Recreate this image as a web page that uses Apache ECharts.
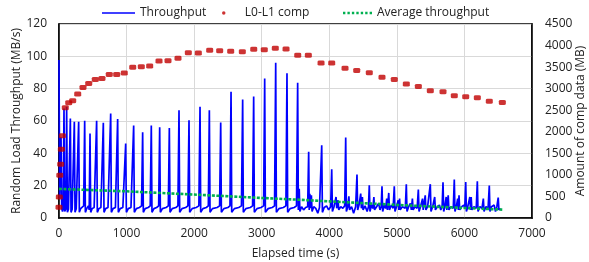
<!DOCTYPE html>
<html>
<head>
<meta charset="utf-8">
<script src="https://cdn.jsdelivr.net/npm/echarts@6/dist/echarts.min.js"></script>
<style>html,body{margin:0;padding:0;background:#fff;}#c{width:589px;height:262px;}</style>
</head>
<body>
<div id="c"></div>
<script>
// Elapsed time (s), Random load throughput (MB/s)
const throughput = [
[0,97.7],[10,12],[22,47],[30,50],[40,6],[52,4],[62,6],[74,67.8],[84,4],[95,5],[104,6],[113,68.8],[124,3.5],[140,5.5],[155,6],
[168,61.6],[178,3.5],[195,5.5],[212,6.5],[227,59.5],[237,3.5],[255,5.8],[278,7],[291,59.5],[301,3.5],[320,5.8],[345,6.5],[365,7.5],
[380,60.1],[390,3.5],[410,5.8],[435,7.5],[447,5],[459,52.3],[469,3.5],[490,5.8],[520,6.5],[542,7.5],[557,60.1],[567,3.5],[590,5.8],
[620,6.5],[641,7.5],[656,58.9],[666,3.5],[690,5.8],[725,6.5],[750,7.5],[765,64.7],[775,3.5],[800,5.8],[835,6.5],[855,7.5],[868,61.2],
[878,3.5],[905,5.8],[945,6.5],[972,7.5],[987,46.1],[997,3.5],[1025,5.8],[1065,6.5],[1090,7.5],[1105,57.2],[1115,3.5],[1145,5.8],
[1190,6.5],[1222,7.5],[1238,53.1],[1248,3.5],[1275,5.8],[1320,6.5],[1350,7.5],[1366,57.2],[1376,3.5],[1405,5.8],[1445,6.5],[1475,7.5],
[1490,56.2],[1500,3.5],[1530,5.8],[1585,6.5],[1618,7.5],[1633,55.6],[1643,3.5],[1675,5.8],[1730,6.5],[1760,7.5],[1776,66.7],[1786,3.5],
[1820,5.8],[1875,6.5],[1908,7.5],[1924,60.5],[1934,3.5],[1970,5.8],[2030,6.5],[2070,7.5],[2087,68.8],[2097,3.5],[2130,5.8],[2180,6.5],
[2210,7.5],[2225,66.7],[2235,3.5],[2270,5.8],[2340,6.5],[2377,7.5],[2393,59.1],[2403,3.5],[2440,5.8],[2500,6.5],[2530,7.5],[2546,78.1],
[2556,3.5],[2595,5.8],[2660,6.5],[2700,7.5],[2718,73.3],[2728,3.5],[2765,5.8],[2830,6.5],[2865,7.5],[2881,75.2],[2891,3.5],[2930,5.8],
[2990,6.5],[3028,7.5],[3044,86.3],[3054,3.5],[3095,5.8],[3155,6.5],[3190,7.5],[3207,96.0],[3217,3.5],[3255,5.8],[3320,6.5],[3358,7.5],
[3374,89.5],[3384,3.5],[3420,5.8],[3480,6.5],[3515,7.5],[3532,83.6],[3542,5],[3555,18],[3565,4],[3590,7],[3620,5],[3650,6.5],[3680,7],
[3695,40.9],[3703,5],[3712,15],[3722,6],[3735,14],[3745,4],[3770,7],[3800,6],[3830,3],[3855,6.5],[3875,7],[3888,45.0],[3898,3.5],
[3925,6.5],[3960,7.5],[3990,5],[4020,7],[4036,30.2],[4046,4],[4070,7],[4100,13],[4110,6],[4130,11],[4140,5],[4170,7],[4200,6],[4228,7.5],
[4243,49.8],[4253,4],[4275,7],[4290,13.4],[4300,5],[4330,7],[4360,3],[4390,7],[4410,26.9],[4420,5],[4440,8],[4465,15.1],[4475,6],
[4490,13],[4500,5],[4530,7.5],[4560,4],[4580,7],[4592,20.3],[4602,4],[4625,8],[4645,6],[4660,13],[4670,5],[4700,7],[4730,9],[4750,5],
[4768,7],[4780,19.6],[4790,4],[4815,8],[4835,6],[4850,12],[4860,5],[4880,15.5],[4890,5],[4920,8],[4945,6],[4962,19.6],[4972,4],[4995,7],
[5020,11],[5030,5],[5040,12],[5050,5],[5080,7],[5105,8],[5125,6],[5140,20.9],[5150,4],[5175,7],[5200,9],[5215,5],[5230,12],[5240,5],
[5270,7],[5300,6],[5318,17.6],[5328,4],[5350,7],[5380,12],[5390,5],[5420,14],[5430,5],[5455,7],[5480,6],[5495,20.9],[5505,4],[5530,7],
[5560,13],[5570,5],[5600,7],[5630,8],[5650,5],[5670,7],[5683,22.1],[5693,4],[5710,7],[5730,13],[5740,5],[5760,14],[5770,5],[5800,7],
[5835,6],[5850,23.8],[5860,4],[5880,7],[5900,12],[5910,5],[5920,14],[5930,5],[5960,7],[5990,8],[6005,6],[6019,22.3],[6029,4],[6050,7],
[6080,13],[6090,5],[6100,13],[6110,5],[6140,7],[6175,6],[6191,22.7],[6201,4],[6230,7],[6260,6],[6280,12],[6290,4],[6320,7],[6350,6],
[6368,20.1],[6378,4],[6400,7],[6420,6],[6440,8],[6460,4],[6480,7],[6500,12.6],[6510,5],[6530,6]
];
// Elapsed time (s), amount of L0-L1 comp data (MB)
const compData = [
[0,249],[5,488],[12,992],[25,1247],[35,1596],[50,1905],[93,2555],[144,2671],[203,2718],[277,2874],[355,3029],[440,3122],[537,3215],
[636,3238],[744,3331],[854,3331],[966,3361],[1091,3494],[1218,3508],[1342,3524],[1480,3640],[1613,3647],[1761,3703],[1914,3833],
[2062,3826],[2230,3889],[2378,3880],[2541,3866],[2713,3857],[2882,3912],[3038,3903],[3201,3935],[3360,3919],[3533,3773],[3690,3773],
[3878,3594],[4036,3594],[4233,3471],[4406,3424],[4592,3369],[4780,3262],[4962,3215],[5140,3106],[5318,3052],[5495,2950],[5683,2927],
[5850,2834],[6019,2811],[6191,2788],[6368,2711],[6561,2681]
];
// Elapsed time (s), average throughput (MB/s)
const averageThroughput = [
[0,18.0],[1000,16.5],[2000,14.5],[3000,12.4],[3500,11.4],[4000,10.3],[5000,8.1],[6000,6.2],[6560,5.2]
];
const xTicks = {min:0, max:7000, interval:1000};
const yLeftTicks = {min:0, max:120, interval:20};
const yRightTicks = {min:0, max:4500, interval:500};

const FONT = 'Open Sans';
const TXT = '#222';
const plain = v => String(v);
const chart = echarts.init(document.getElementById('c'), null, {renderer:'canvas'});
const labelStyle = {fontFamily:FONT, fontSize:12, color:TXT};
const dotIcon = 'path://M0,0h2.4v2.4h-2.4zM4.5,0h2.4v2.4h-2.4zM9,0h2.4v2.4h-2.4zM13.5,0h2.4v2.4h-2.4zM18,0h2.4v2.4h-2.4zM22.5,0h2.4v2.4h-2.4zM27,0h2.4v2.4h-2.4z';
chart.setOption({
  animation:false,
  backgroundColor:'#fff',
  textStyle:{fontFamily:FONT},
  grid:{left:59, right:57, top:24, bottom:44, show:true, borderColor:'#000', borderWidth:1.5,
        containLabel:false, outerBoundsMode:'none'},
  legend:[
    {data:[{name:'Throughput', icon:'rect', itemStyle:{color:'#0000ff'}}], left:102, top:7, padding:0, itemWidth:33, itemHeight:1.6,
     textStyle:labelStyle, selectedMode:false},
    {data:[{name:'L0-L1 comp', icon:'circle', itemStyle:{color:'#c00000'}}], left:222, top:7, padding:0, itemWidth:32, itemHeight:3.5,
     textStyle:labelStyle, selectedMode:false},
    {data:[{name:'Average throughput', icon:dotIcon, itemStyle:{color:'#00b050'}}], left:343, top:7, padding:0, itemWidth:29, itemHeight:2.4,
     textStyle:labelStyle, selectedMode:false}
  ],
  xAxis:{
    type:'value', min:xTicks.min, max:xTicks.max, interval:xTicks.interval,
    name:'Elapsed time (s)', nameLocation:'middle', nameGap:30, nameMoveOverlap:false, nameTextStyle:labelStyle,
    axisLine:{show:true, lineStyle:{color:'#000', width:1.5}}, axisTick:{show:false},
    axisLabel:Object.assign({margin:10, formatter:plain}, labelStyle),
    splitLine:{show:true, lineStyle:{color:'#d9d9d9', width:1}}
  },
  yAxis:[
    {type:'value', min:yLeftTicks.min, max:yLeftTicks.max, interval:yLeftTicks.interval, position:'left',
     name:'Random Load Throughput (MB/s)', nameLocation:'middle', nameGap:36, nameMoveOverlap:false, nameTextStyle:labelStyle,
     axisLine:{show:true, lineStyle:{color:'#000', width:1.5}}, axisTick:{show:false},
     axisLabel:Object.assign({margin:12, formatter:plain}, labelStyle),
     splitLine:{show:true, lineStyle:{color:'#d9d9d9', width:1}}},
    {type:'value', min:yRightTicks.min, max:yRightTicks.max, interval:yRightTicks.interval, position:'right',
     name:'Amount of comp data (MB)', nameLocation:'middle', nameGap:43, nameMoveOverlap:false, nameTextStyle:labelStyle,
     axisLine:{show:true, lineStyle:{color:'#000', width:1.5}}, axisTick:{show:false},
     axisLabel:Object.assign({margin:13, formatter:plain}, labelStyle),
     splitLine:{show:false}}
  ],
  series:[
    {name:'Throughput', type:'line', data:throughput, yAxisIndex:0, symbol:'none', showSymbol:false,
     lineStyle:{color:'#0000ff', width:1.7}, itemStyle:{color:'#0000ff'}, z:2},
    {name:'L0-L1 comp', type:'scatter', data:compData, yAxisIndex:1, symbol:'roundRect', symbolSize:[7,5],
     itemStyle:{color:'#c00000'}, z:3},
    {name:'Average throughput', type:'line', data:averageThroughput, yAxisIndex:0, symbol:'none', showSymbol:false,
     lineStyle:{color:'#00b050', width:2.6, type:[3,1.5]}, itemStyle:{color:'#00b050'}, z:4}
  ]
});
</script>
</body>
</html>
